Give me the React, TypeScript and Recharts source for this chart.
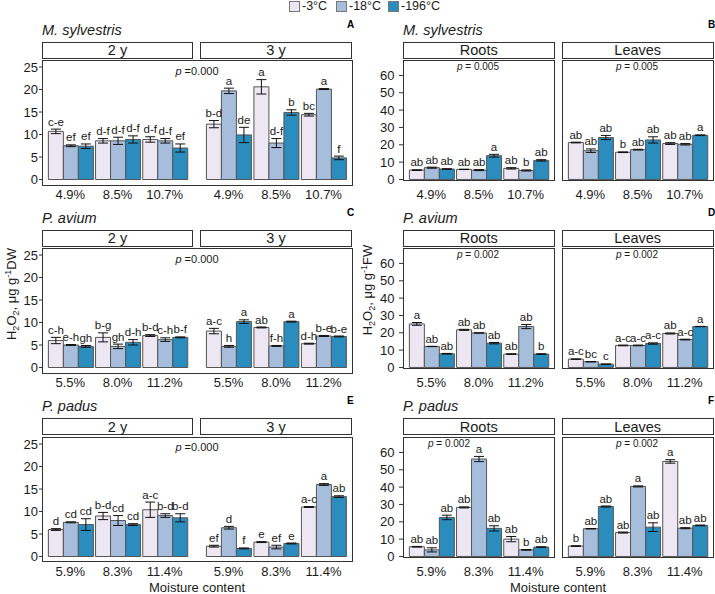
import React from "react";
import { BarChart, Bar, XAxis, YAxis, ErrorBar, LabelList } from "recharts";

const tempNames = ["-3°C", "-18°C", "-196°C"];
const tempColors = ["#ece7f2", "#a6bddb", "#2b8cbe"];

// rows = moisture levels, columns = -3 / -18 / -196 °C
// A – M. sylvestris seeds
const moistA = ["4.9%", "8.5%", "10.7%"];
const a2yMean = [[10.7, 7.5, 7.4], [8.6, 8.6, 8.9], [8.9, 8.6, 7.0]];
const a2yErr = [[0.5, 0.2, 0.5], [0.5, 0.8, 0.8], [0.6, 0.5, 0.9]];
const a2yLet = [["c-e", "ef", "ef"], ["d-f", "d-f", "d-f"], ["d-f", "d-f", "ef"]];
const a3yMean = [[12.3, 19.7, 9.9], [20.6, 8.1, 14.9], [14.4, 20.1, 4.8]];
const a3yErr = [[0.8, 0.6, 1.7], [1.6, 1.0, 0.6], [0.3, 0.1, 0.4]];
const a3yLet = [["b-d", "a", "de"], ["a", "d-f", "b"], ["bc", "a", "f"]];

// B – M. sylvestris seedlings
const bRootMean = [[5.4, 6.8, 6.0], [5.8, 5.4, 13.7], [6.4, 5.2, 11.0]];
const bRootErr = [[0.2, 0.3, 0.2], [0.1, 0.3, 0.8], [0.4, 0.3, 0.4]];
const bRootLet = [["ab", "ab", "ab"], ["ab", "ab", "a"], ["ab", "b", "ab"]];
const bLeafMean = [[21.3, 16.6, 24.2], [15.7, 17.2, 22.8], [20.7, 20.3, 25.5]];
const bLeafErr = [[0.2, 1.0, 1.2], [0.2, 0.2, 1.8], [0.5, 0.4, 0.2]];
const bLeafLet = [["ab", "ab", "ab"], ["b", "ab", "ab"], ["ab", "ab", "a"]];

// C – P. avium seeds
const moistC = ["5.5%", "8.0%", "11.2%"];
const c2yMean = [[6.0, 5.0, 4.7], [6.7, 4.7, 5.6], [7.1, 6.2, 6.7]];
const c2yErr = [[0.7, 0.1, 0.2], [1.0, 0.5, 0.6], [0.2, 0.4, 0.1]];
const c2yLet = [["c-h", "e-h", "gh"], ["b-g", "gh", "d-h"], ["b-d", "c-h", "b-f"]];
const c3yMean = [[8.1, 4.7, 10.2], [8.9, 4.8, 10.2], [5.3, 7.0, 6.9]];
const c3yErr = [[0.6, 0.2, 0.4], [0.1, 0.1, 0.1], [0.1, 0.1, 0.1]];
const c3yLet = [["a-c", "h", "a"], ["ab", "f-h", "a"], ["d-h", "b-e", "b-e"]];

// D – P. avium seedlings
const dRootMean = [[25.1, 12.1, 7.9], [21.7, 19.9, 14.0], [7.7, 23.6, 7.7]];
const dRootErr = [[0.8, 0.1, 0.2], [0.3, 0.1, 0.4], [0.2, 1.2, 0.2]];
const dRootLet = [["a", "ab", "ab"], ["ab", "ab", "ab"], ["ab", "ab", "b"]];
const dLeafMean = [[4.8, 3.3, 1.9], [12.7, 12.7, 13.8], [19.6, 16.1, 23.6]];
const dLeafErr = [[0.1, 0.1, 0.1], [0.2, 0.2, 0.4], [0.3, 0.2, 0.1]];
const dLeafLet = [["a-c", "bc", "c"], ["a-c", "a-c", "a-c"], ["ab", "a-c", "a"]];

// E – P. padus seeds
const moistE = ["5.9%", "8.3%", "11.4%"];
const e2yMean = [[6.0, 7.6, 7.1], [9.0, 8.0, 7.1], [10.4, 9.1, 8.6]];
const e2yErr = [[0.2, 0.1, 1.3], [0.8, 1.1, 0.2], [1.7, 0.4, 0.9]];
const e2yLet = [["d", "cd", "cd"], ["b-d", "cd", "cd"], ["a-c", "b-d", "b-d"]];
const e3yMean = [[2.3, 6.4, 1.8], [3.2, 2.1, 2.9], [11.0, 16.0, 13.3]];
const e3yErr = [[0.2, 0.3, 0.1], [0.1, 0.4, 0.1], [0.1, 0.2, 0.2]];
const e3yLet = [["ef", "d", "f"], ["e", "ef", "e"], ["a-c", "a", "ab"]];

// F – P. padus seedlings
const fRootMean = [[5.6, 3.8, 22.5], [28.3, 56.2, 16.2], [10.0, 3.8, 5.4]];
const fRootErr = [[0.2, 1.2, 1.3], [0.3, 1.5, 1.5], [1.5, 0.2, 0.2]];
const fRootLet = [["ab", "ab", "ab"], ["ab", "a", "ab"], ["ab", "b", "ab"]];
const fLeafMean = [[6.0, 16.0, 28.8], [13.8, 40.4, 16.9], [54.8, 16.3, 17.9]];
const fLeafErr = [[0.2, 0.1, 0.3], [0.3, 0.3, 2.5], [1.0, 0.3, 0.2]];
const fLeafLet = [["b", "ab", "ab"], ["ab", "a", "ab"], ["a", "ab", "ab"]];

const leftTicks = [0, 5, 10, 15, 20, 25];
const rightTicks = [0, 10, 20, 30, 40, 50, 60];

const FONT = '"Liberation Sans", Arial, Helvetica, sans-serif';
const INK = "#1a1a1a";
const LINE = "#333";

const rowTops = [60, 248, 436.5];

function XTick(props: any) {
  const { x, y, payload, off } = props;
  return (
    <text x={x} y={y + off} textAnchor="middle" dominantBaseline="central" fontSize={13} fill={INK}>
      {payload.value}
    </text>
  );
}

const letterLabel = (rows: any[], k: number) => (props: any) => {
  const vb = props.viewBox || {};
  const x = props.x ?? vb.x;
  const y = props.y ?? vb.y;
  const w = props.width ?? vb.width;
  const h = props.height ?? vb.height;
  const row = rows[props.index];
  if (!row || x == null) return null;
  const v = row[`v${k}`];
  const e = row[`e${k}`];
  const errPx = v ? (h * e) / v : 0;
  return (
    <text x={x + w / 2} y={y - errPx - 3.5} textAnchor="middle" fontSize={11.5} fill={INK}>
      {props.value}
    </text>
  );
};

function Facet(p: any) {
  const rows = p.moist.map((m: string, i: number) => ({
    m,
    v0: p.mean[i][0], v1: p.mean[i][1], v2: p.mean[i][2],
    e0: p.err[i][0], e1: p.err[i][1], e2: p.err[i][2],
    l0: p.lett[i][0], l1: p.lett[i][1], l2: p.lett[i][2],
  }));
  const u = p.w / 3.2;
  const axisW = p.showY ? 40 : 0;
  return (
    <div style={{ position: "absolute", left: p.x - axisW, top: p.top }}>
      <BarChart
        width={p.w + axisW}
        height={p.plotH + 30}
        data={rows}
        margin={{ top: 0, right: 0, bottom: 0, left: 0 }}
        barGap={0}
        barCategoryGap={0.035 * u}
      >
        <XAxis
          dataKey="m"
          height={30}
          axisLine={false}
          tickLine={false}
          tickSize={0}
          tickMargin={0}
          interval={0}
          padding={{ left: 0.1 * u, right: 0.1 * u }}
          tick={<XTick off={p.labelOff} />}
        />
        <YAxis
          type="number"
          domain={p.domain}
          ticks={p.ticks}
          allowDataOverflow
          hide={!p.showY}
          width={axisW}
          axisLine={false}
          tickSize={p.tickSize}
          tickMargin={p.tickGap}
          interval={0}
          tickLine={{ stroke: LINE }}
          tick={{ fontSize: 13, fill: INK }}
        />
        {[0, 1, 2].map((k) => (
          <Bar key={k} dataKey={`v${k}`} fill={tempColors[k]} stroke="#555" strokeWidth={1} isAnimationActive={false}>
            <ErrorBar dataKey={`e${k}`} width={5} stroke="#111" strokeWidth={1} />
            <LabelList dataKey={`l${k}`} content={letterLabel(rows, k)} />
          </Bar>
        ))}
      </BarChart>
    </div>
  );
}

function Box({ x, y, w, h, children, fill }: any) {
  return (
    <div
      style={{
        position: "absolute", left: x, top: y, width: w, height: h, boxSizing: "border-box",
        border: `1px solid ${LINE}`, background: fill || "transparent", display: "flex",
        alignItems: "center", justifyContent: "center", fontSize: 14.5, color: INK, pointerEvents: "none",
      }}
    >
      {children}
    </div>
  );
}

function Title({ x, y, text, letter, letterX }: any) {
  return (
    <>
      <div style={{ position: "absolute", left: x, top: y - 9, fontSize: 14.5, fontStyle: "italic", lineHeight: "18px", color: INK }}>{text}</div>
      <div style={{ position: "absolute", left: letterX, top: y - 12, fontSize: 10, fontWeight: "bold", lineHeight: "14px", color: "#000" }}>{letter}</div>
    </>
  );
}

function PText({ x, y, text, size }: any) {
  return (
    <div style={{ position: "absolute", left: x - 40, width: 80, top: y - 7, textAlign: "center", fontSize: size, lineHeight: "14px", color: INK }}>
      <i>p</i>{text}
    </div>
  );
}

function LeftPanel({ row, title, letter, moist, f2, f3 }: any) {
  const top = rowTops[row];
  const common = { top, plotH: 125, moist, domain: [-1.22, 26.56], ticks: leftTicks, tickSize: 3, tickGap: 1, labelOff: 9 };
  return (
    <>
      <Title x={42} y={top - 30.5} text={title} letter={letter} letterX={347} />
      <Box x={42} y={top - 18.2} w={151} h={17} fill="#fff">2 y</Box>
      <Box x={200} y={top - 18.2} w={152} h={17} fill="#fff">3 y</Box>
      <Facet {...common} x={42} w={151} showY mean={f2[0]} err={f2[1]} lett={f2[2]} />
      <Facet {...common} x={200} w={152} mean={f3[0]} err={f3[1]} lett={f3[2]} />
      <Box x={42} y={top} w={310.5} h={125.5} />
      <PText x={197} y={top + 10.5} text=" =0.000" size={11} />
    </>
  );
}

function RightPanel({ row, title, letter, moist, fr, fl, pr, pv }: any) {
  const top = rowTops[row];
  const common = { top, plotH: 120.5, moist, domain: [-0.6, 68.9], ticks: rightTicks, tickSize: 4, tickGap: 4.5, labelOff: 13.5 };
  return (
    <>
      <Title x={403} y={top - 30.5} text={title} letter={letter} letterX={708} />
      <Box x={403} y={top - 18.2} w={151.5} h={17} fill="#fff">Roots</Box>
      <Box x={562} y={top - 18.2} w={151.5} h={17} fill="#fff">Leaves</Box>
      <Facet {...common} x={403} w={151} showY mean={fr[0]} err={fr[1]} lett={fr[2]} />
      <Facet {...common} x={562} w={151} mean={fl[0]} err={fl[1]} lett={fl[2]} />
      <Box x={403} y={top} w={151.5} h={121} />
      <Box x={562} y={top} w={151.5} h={121} />
      <PText x={pr} y={top + 7.2} text={` = ${pv}`} size={10} />
      <PText x={637} y={top + 7.2} text={` = ${pv}`} size={10} />
    </>
  );
}

function YTitle({ x, y, unit }: any) {
  return (
    <svg style={{ position: "absolute", left: x - 10, top: y - 60 }} width={20} height={120}>
      <text transform="translate(14,60) rotate(-90)" textAnchor="middle" fontSize={13} fill={INK} fontFamily={FONT}>
        H<tspan fontSize={9} dy={3}>2</tspan>
        <tspan dy={-3}>O</tspan>
        <tspan fontSize={9} dy={3}>2</tspan>
        <tspan dy={-3}>, μg g</tspan>
        <tspan fontSize={9} dy={-5}>-1</tspan>
        <tspan dy={5}>{unit}</tspan>
      </text>
    </svg>
  );
}

function Legend() {
  const xs = [289, 336, 388];
  return (
    <>
      {tempNames.map((t, i) => (
        <div key={t} style={{ position: "absolute", left: xs[i], top: 1, display: "flex", alignItems: "center", fontSize: 12.5, lineHeight: "11px", color: INK }}>
          <span style={{ display: "inline-block", width: 9, height: 9, border: "1px solid #777", background: tempColors[i], marginRight: 2 }} />
          {t}
        </div>
      ))}
    </>
  );
}

export default function App() {
  return (
    <div style={{ position: "absolute", left: 0, top: 0, width: 715, height: 594, background: "#fff", fontFamily: FONT, overflow: "hidden" }}>
      <style>{"body{margin:0}"}</style>
      <Legend />
      <LeftPanel row={0} title="M. sylvestris" letter="A" moist={moistA} f2={[a2yMean, a2yErr, a2yLet]} f3={[a3yMean, a3yErr, a3yLet]} />
      <RightPanel row={0} title="M. sylvestris" letter="B" moist={moistA} fr={[bRootMean, bRootErr, bRootLet]} fl={[bLeafMean, bLeafErr, bLeafLet]} pr={478} pv="0.005" />
      <LeftPanel row={1} title="P. avium" letter="C" moist={moistC} f2={[c2yMean, c2yErr, c2yLet]} f3={[c3yMean, c3yErr, c3yLet]} />
      <RightPanel row={1} title="P. avium" letter="D" moist={moistC} fr={[dRootMean, dRootErr, dRootLet]} fl={[dLeafMean, dLeafErr, dLeafLet]} pr={478} pv="0.002" />
      <LeftPanel row={2} title="P. padus" letter="E" moist={moistE} f2={[e2yMean, e2yErr, e2yLet]} f3={[e3yMean, e3yErr, e3yLet]} />
      <RightPanel row={2} title="P. padus" letter="F" moist={moistE} fr={[fRootMean, fRootErr, fRootLet]} fl={[fLeafMean, fLeafErr, fLeafLet]} pr={449} pv="0.002" />
      <YTitle x={12} y={294} unit="DW" />
      <YTitle x={368} y={290} unit="FW" />
      <div style={{ position: "absolute", left: 97, width: 200, top: 580, textAlign: "center", fontSize: 13, color: INK }}>Moisture content</div>
      <div style={{ position: "absolute", left: 458, width: 200, top: 580, textAlign: "center", fontSize: 13, color: INK }}>Moisture content</div>
    </div>
  );
}
